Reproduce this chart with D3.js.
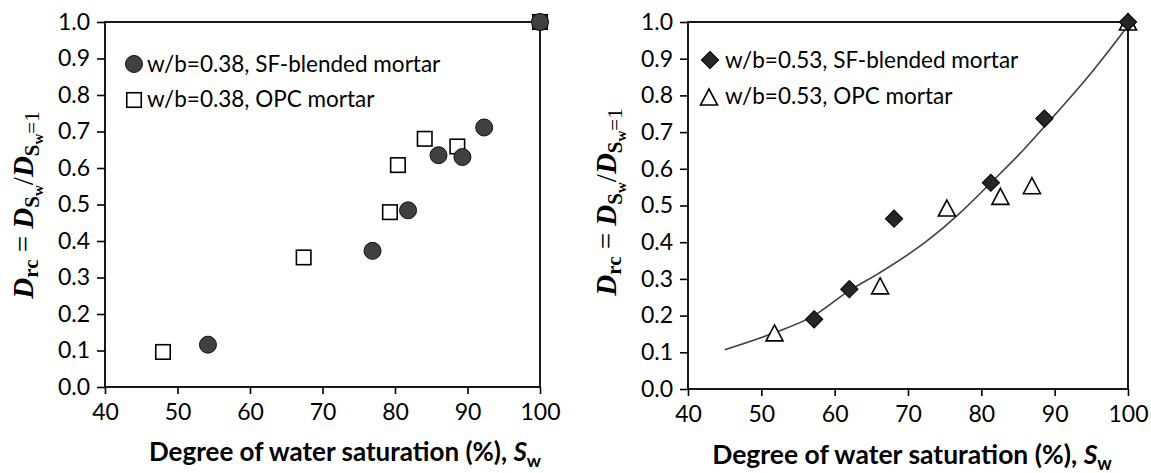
<!DOCTYPE html>
<html><head><meta charset="utf-8">
<script src="https://cdn.jsdelivr.net/npm/d3@7"></script>
<style>
html,body{margin:0;padding:0;background:#fff;}
svg{display:block;}
text{font-family:Lato, "Open Sans", sans-serif;fill:#000;}
</style></head>
<body>
<svg id="c" width="1151" height="473"></svg>
<script>
// ---- data ----
const xTicks = [40, 50, 60, 70, 80, 90, 100];
const yTicks = [0, 0.1, 0.2, 0.3, 0.4, 0.5, 0.6, 0.7, 0.8, 0.9, 1.0];

const leftSFx  = [54.2, 76.9, 81.8, 86.0, 89.3, 92.3, 100];
const leftSFy  = [0.116, 0.373, 0.484, 0.635, 0.630, 0.711, 1.0];
const leftOPCx = [48.0, 67.4, 79.3, 80.4, 84.1, 88.6, 100];
const leftOPCy = [0.096, 0.355, 0.479, 0.608, 0.680, 0.659, 1.0];

const rightSFx  = [57.2, 62.0, 68.1, 81.3, 88.6, 100];
const rightSFy  = [0.190, 0.272, 0.464, 0.562, 0.737, 1.0];
const rightOPCx = [51.8, 66.2, 75.3, 82.6, 86.9, 100];
const rightOPCy = [0.153, 0.281, 0.493, 0.525, 0.554, 1.0];

// trend curve
const curveX = [45, 52, 57, 62, 66, 72.5, 77, 81, 85, 89, 95, 100];
const curveY = [0.107, 0.155, 0.198, 0.268, 0.315, 0.402, 0.478, 0.556, 0.636, 0.724, 0.862, 0.99];

const legendLeft  = ["w/b=0.38, SF-blended mortar", "w/b=0.38, OPC mortar"];
const legendRight = ["w/b=0.53, SF-blended mortar", "w/b=0.53, OPC mortar"];
const xTitle = "Degree of water saturation (%), ";

// ---- drawing ----
const svg = d3.select("#c");
const TFS = 23;   // tick font
const LFS = 22.5; // legend font

function panel(opt) {
  const x = d3.scaleLinear().domain([40, 100]).range([opt.x0, opt.x1]);
  const y = d3.scaleLinear().domain([0, 1]).range([opt.y0, opt.y1]);
  const g = svg.append("g");

  const ax = g.append("g").attr("transform", `translate(0,${opt.y0})`)
    .call(d3.axisBottom(x).tickValues(xTicks).tickSize(7).tickPadding(5).tickFormat(d3.format("d")));
  const ay = g.append("g").attr("transform", `translate(${opt.x0},0)`)
    .call(d3.axisLeft(y).tickValues(yTicks).tickSize(8).tickPadding(7).tickFormat(d3.format(".1f")));
  [ax, ay].forEach(a => {
    a.select(".domain").remove();
    a.selectAll(".tick line").attr("stroke", "#000").attr("stroke-width", 1.6);
    a.selectAll(".tick text").style("font-size", TFS + "px").style("font-family", "Lato").attr("fill", "#000");
  });
  ax.selectAll(".tick text").attr("dy", "0.9em");

  g.append("rect").attr("x", opt.x0).attr("y", opt.y1)
    .attr("width", opt.x1 - opt.x0).attr("height", opt.y0 - opt.y1)
    .attr("fill", "none").attr("stroke", "#000").attr("stroke-width", 1.8);

  opt.draw(g, x, y);

  opt.legend.forEach((t, i) => {
    g.append("text").attr("x", opt.legX).attr("y", opt.legY[i])
      .style("font-size", LFS + "px").text(t);
  });
  opt.legendMarks(g);

  const xt = g.append("text").attr("x", opt.xtX).attr("y", opt.xtY)
    .attr("text-anchor", "middle").style("font-size", opt.xtFS + "px").style("font-weight", "bold");
  xt.append("tspan").text(xTitle);
  xt.append("tspan").style("font-style", "italic").text("S");
  xt.append("tspan").attr("dy", 6).style("font-size", (opt.xtFS * 0.68) + "px").text("w");

  const yt = g.append("text")
    .attr("transform", `translate(${opt.ytX},${opt.ytY}) rotate(-90)`)
    .attr("text-anchor", "middle")
    .style("font-family", "'Liberation Serif', 'DejaVu Serif', serif")
    .style("font-size", "29px").style("font-weight", "bold");
  const sub = 21, subsub = 15;
  yt.append("tspan").style("font-style", "italic").text("D");
  yt.append("tspan").attr("dy", 5).style("font-size", sub + "px").text("rc");
  yt.append("tspan").attr("dy", -5).style("font-weight", "normal").text(" = ");
  yt.append("tspan").style("font-style", "italic").text("D");
  yt.append("tspan").attr("dy", 6).style("font-size", sub + "px").text("S");
  yt.append("tspan").attr("dy", 4).style("font-size", subsub + "px").text("w");
  yt.append("tspan").attr("dy", -10).style("font-weight", "normal").text("/");
  yt.append("tspan").style("font-style", "italic").text("D");
  yt.append("tspan").attr("dy", 6).style("font-size", sub + "px").text("S");
  yt.append("tspan").attr("dy", 4).style("font-size", subsub + "px").text("w");
  yt.append("tspan").attr("dy", -4).style("font-size", sub + "px").style("font-weight", "normal").text("=1");
}

const sqSize = 14.5, circR = 8.5;
function square(g, cx, cy) {
  g.append("rect").attr("x", cx - sqSize / 2).attr("y", cy - sqSize / 2)
    .attr("width", sqSize).attr("height", sqSize)
    .attr("fill", "#fff").attr("stroke", "#000").attr("stroke-width", 1.6);
}
function circle(g, cx, cy) {
  g.append("circle").attr("cx", cx).attr("cy", cy).attr("r", circR)
    .attr("fill", "#404040").attr("stroke", "#111").attr("stroke-width", 1);
}
function diamond(g, cx, cy) {
  g.append("path").attr("d", d3.symbol().type(d3.symbolSquare).size(150)())
    .attr("transform", `translate(${cx},${cy}) rotate(45)`)
    .attr("fill", "#262626").attr("stroke", "#000").attr("stroke-width", 1);
}
function triangle(g, cx, cy) {
  const w = 17, h = 16;
  g.append("path").attr("d", `M${cx},${cy - h / 2}L${cx + w / 2},${cy + h / 2}L${cx - w / 2},${cy + h / 2}Z`)
    .attr("fill", "#fff").attr("stroke", "#000").attr("stroke-width", 1.6);
}

panel({
  x0: 105, x1: 540, y0: 387, y1: 22,
  legend: legendLeft, legX: 147, legY: [72, 107],
  xtX: 345, xtY: 461, xtFS: 26,
  ytX: 33, ytY: 205,
  draw(g, x, y) {
    leftOPCx.forEach((v, i) => square(g, x(v), y(leftOPCy[i])));
    leftSFx.forEach((v, i) => circle(g, x(v), y(leftSFy[i])));
  },
  legendMarks(g) { circle(g, 134, 64); square(g, 134, 100); }
});

panel({
  x0: 688, x1: 1128, y0: 389, y1: 22,
  legend: legendRight, legX: 725, legY: [68, 104],
  xtX: 912, xtY: 464, xtFS: 26.5,
  ytX: 616, ytY: 202,
  draw(g, x, y) {
    const line = d3.line().x((d, i) => x(curveX[i])).y((d, i) => y(curveY[i])).curve(d3.curveMonotoneX);
    g.append("path").datum(curveX).attr("d", line)
      .attr("fill", "none").attr("stroke", "#404040").attr("stroke-width", 1.6);
    rightOPCx.forEach((v, i) => triangle(g, x(v), y(rightOPCy[i])));
    rightSFx.forEach((v, i) => diamond(g, x(v), y(rightSFy[i])));
  },
  legendMarks(g) { diamond(g, 710, 60); triangle(g, 709, 97); }
});
</script>
</body></html>
